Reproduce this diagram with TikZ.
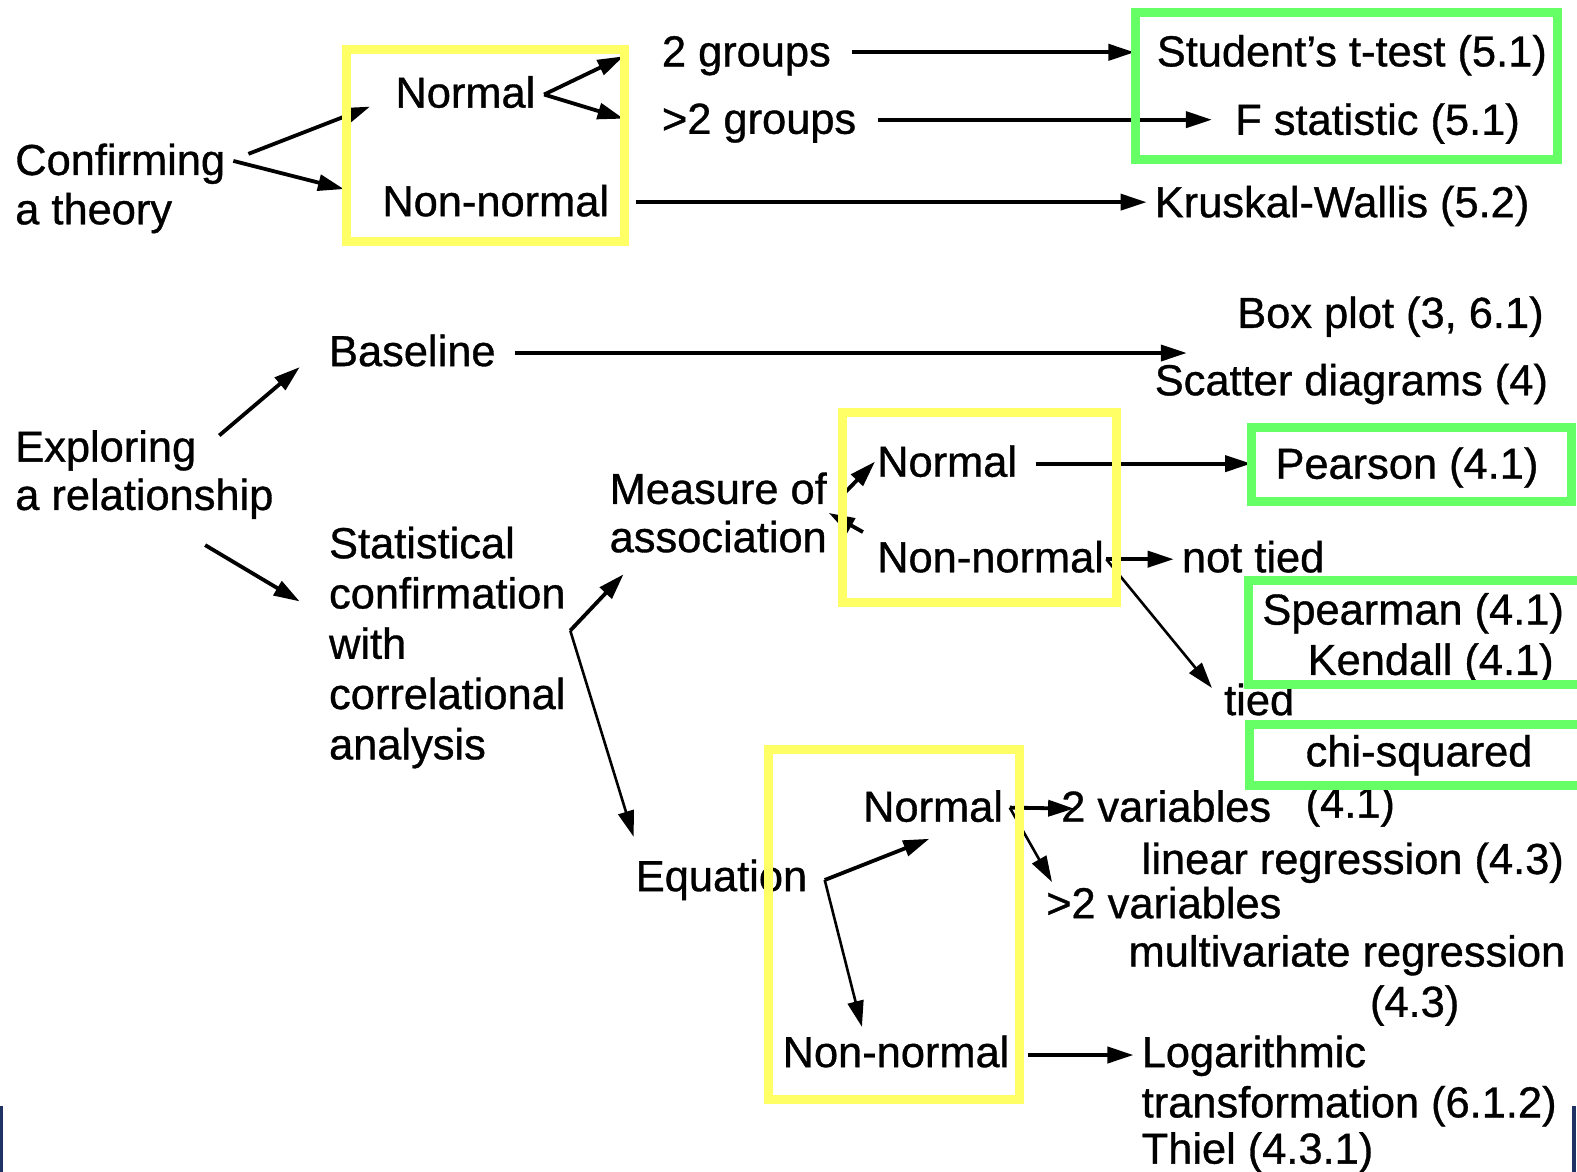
\documentclass[tikz,border=0pt]{standalone}
\usepackage{fontspec}
\setmainfont{Liberation Sans}[FakeBold=0.8]
\usetikzlibrary{arrows.meta}
\definecolor{hlyellow}{RGB}{255,255,102}
\definecolor{hlgreen}{RGB}{102,255,102}
\definecolor{navyedge}{RGB}{30,50,100}
\begin{document}
\begin{tikzpicture}[x=1.0057pt,y=-1.0057pt,
  txt/.style={anchor=base west, inner sep=0pt, font=\fontsize{43.4}{50}\selectfont},
  arr/.style={line width=3.8pt, -{Triangle[length=26pt,width=16pt]}},
  thin/.style={line width=2.6pt},
  ybox/.style={draw=hlyellow, line width=9pt},
  gbox/.style={draw=hlgreen, line width=9pt}]
\useasboundingbox[fill=white] (0,0) rectangle (1568,1165);

% ---------- texts ----------
\node[txt] (conf) at (15,174) {Confirming};
\node[txt] (conf2) at (15,223) {a theory};
\node[txt] (norm1) at (393,107) {Normal};
\node[txt] (nonn1) at (380,215) {Non-normal};
\node[txt] (grp2) at (658,66) {2 groups};
\node[txt] (grpm) at (658,133) {>2 groups};
\node[txt] (stud) at (1150,66) {Student’s t-test (5.1)};
\node[txt] (fstat) at (1228,134) {F statistic (5.1)};
\node[txt] (krus) at (1148,216) {Kruskal-Wallis (5.2)};

\node[txt] (box) at (1230,326) {Box plot (3, 6.1)};
\node[txt] (base) at (327,364) {Baseline};
\node[txt] (scat) at (1148,393) {Scatter diagrams (4)};
\node[txt] (expl) at (15,459) {Exploring};
\node[txt] (expl2) at (15,507) {a relationship};
\node[txt] (stat1) at (327,555) {Statistical};
\node[txt] (stat2) at (327,605) {confirmation};
\node[txt] (stat3) at (327,655) {with};
\node[txt] (stat4) at (327,705) {correlational};
\node[txt] (stat5) at (327,755) {analysis};
\node[txt] (meas1) at (606,501) {Measure of};
\node[txt] (meas2) at (606,549) {association};
\node[txt] (norm2) at (872,474) {Normal};
\node[txt] (nonn2) at (872,569) {Non-normal};
\node[txt] (pear) at (1268,476) {Pearson (4.1)};
\node[txt] (ntied) at (1175,569) {not tied};
\node[txt] (spear) at (1255,621) {Spearman (4.1)};
\node[txt] (kend) at (1300,671) {Kendall (4.1)};
\node[txt] (tied) at (1217,711) {tied};
\node[txt] (chi) at (1298,762) {chi-squared};
\node[txt] (chi2) at (1298,813) {(4.1)};

\node[txt] (equa) at (632,886) {Equation};
\node[txt] (norm3) at (858,817) {Normal};
\node[txt] (var2) at (1055,817) {2 variables};
\node[txt] (linr) at (1135,869) {linear regression (4.3)};
\node[txt] (varm) at (1040,913) {>2 variables};
\node[txt] (mult) at (1122,961) {multivariate regression};
\node[txt] (mult2) at (1362,1011) {(4.3)};
\node[txt] (nonn3) at (778,1061) {Non-normal};
\node[txt] (loga) at (1135,1061) {Logarithmic};
\node[txt] (loga2) at (1135,1111) {transformation (6.1.2)};
\node[txt] (thiel) at (1135,1157) {Thiel (4.3.1)};

% ---------- connector end points ----------
\coordinate (cA) at (247,153);
\coordinate (cB) at (232,160);
\coordinate (tNorm1) at (368,106);
\coordinate (tNonn1) at (342,188);
\coordinate (vN1) at (541,94);
\coordinate (tG2) at (620,56);
\coordinate (tGm) at (620,118);
\coordinate (sG2) at (847,52);
\coordinate (eG2) at (1128,52);
\coordinate (sGm) at (873,119);
\coordinate (eGm) at (1205,119);
\coordinate (sK) at (632,201);
\coordinate (eK) at (1140,201);

\coordinate (sEb) at (218,433);
\coordinate (eEb) at (298,365);
\coordinate (sEs) at (204,542);
\coordinate (eEs) at (298,598);
\coordinate (sB) at (512,351);
\coordinate (eB) at (1180,351);
\coordinate (vS) at (567,627);
\coordinate (tM) at (620,571);
\coordinate (tEq) at (630,832);
\coordinate (sMN) at (838,492);
\coordinate (tMN) at (870,459);
\coordinate (sMa) at (858,529);
\coordinate (tMa) at (824,510);
\coordinate (sP) at (1030,461);
\coordinate (eP) at (1244,461);
\coordinate (vN2) at (1100,556);
\coordinate (tNt) at (1167,556);
\coordinate (tTd) at (1205,684);

\coordinate (vEq) at (820,875);
\coordinate (tEN) at (924,834);
\coordinate (tENn) at (857,1021);
\coordinate (vN3) at (1004,803);
\coordinate (t2v) at (1068,804);
\coordinate (tmv) at (1046,877);
\coordinate (sL) at (1022,1049);
\coordinate (eL) at (1127,1049);

% ---------- connectors ----------
\draw[arr] (cA) -- (tNorm1);
\draw[arr] (cB) -- (tNonn1);
\draw[arr] (vN1) -- (tG2);
\draw[arr] (vN1) -- (tGm);
\draw[arr] (sG2) -- (eG2);
\draw[arr] (sGm) -- (eGm);
\draw[arr] (sK) -- (eK);
\draw[arr] (sEb) -- (eEb);
\draw[arr] (sEs) -- (eEs);
\draw[arr] (sB) -- (eB);
\draw[arr] (vS) -- (tM);
\draw[arr, thin] (vS) -- (tEq);
\draw[arr] (sMN) -- (tMN);
\draw[arr] (sMa) -- (tMa);
\draw[arr] (sP) -- (eP);
\draw[arr] (vN2) -- (tNt);
\draw[arr, thin] (vN2) -- (tTd);
\draw[arr] (vEq) -- (tEN);
\draw[arr, thin] (vEq) -- (tENn);
\draw[arr] (vN3) -- (t2v);
\draw[arr, thin] (vN3) -- (tmv);
\draw[arr] (sL) -- (eL);

% ---------- highlight boxes ----------
\draw[ybox] (344.5,49.5) rectangle (620.5,240.5);
\draw[ybox] (837.5,410.5) rectangle (1110.5,599.5);
\draw[ybox] (764.5,745.5) rectangle (1013.5,1093.5);
\draw[gbox] (1129.5,12.5) rectangle (1548.5,158.5);
\draw[gbox] (1244.5,425.5) rectangle (1562.5,498.5);
\draw[gbox] (1241.5,577.5) rectangle (1572,680.5);
\draw[gbox] (1242.5,720.5) rectangle (1572,781.5);

% ---------- scan edges ----------
\fill[navyedge] (0,1100) rectangle (3,1165);
\fill[navyedge] (1563,1100) rectangle (1567,1165);
\end{tikzpicture}
\end{document}
